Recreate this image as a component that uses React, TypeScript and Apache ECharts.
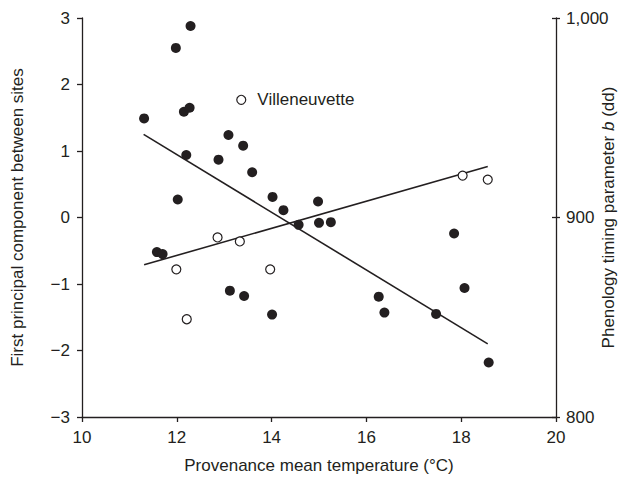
import React, { useEffect, useRef } from "react";
import * as echarts from "echarts";

// Filled dots: first principal component (left axis)
const pcTemp = [11.31, 11.98, 12.29, 12.15, 12.27, 12.2, 12.02, 13.09, 12.88, 13.4, 13.59, 14.02, 14.25, 14.57, 14.98, 15.0, 15.25, 17.85, 11.58, 11.7, 13.12, 13.42, 14.01, 16.26, 16.38, 17.47, 18.07, 18.58];
const pcValue = [1.49, 2.55, 2.88, 1.59, 1.65, 0.94, 0.27, 1.24, 0.87, 1.08, 0.68, 0.31, 0.11, -0.11, 0.24, -0.08, -0.07, -0.24, -0.52, -0.55, -1.1, -1.18, -1.46, -1.19, -1.43, -1.45, -1.06, -2.18];

// Open circles: phenology timing parameter b (right axis)
const phTemp = [13.36, 12.86, 13.33, 11.99, 13.97, 12.21, 18.03, 18.56];
const phValue = [959, 890, 888, 874, 874, 849, 921, 919];
const phSite = ["Villeneuvette", "", "", "", "", "", "", ""];

// Regression lines
const pcFitTemp = [11.3, 18.56];
const pcFitValue = [1.25, -1.9];
const phFitTemp = [11.31, 18.56];
const phFitValue = [876.3, 925.6];

const xTicks = { min: 10, max: 20, interval: 2 };
const leftTicks = { min: -3, max: 3, interval: 1 };
const rightTicks = { min: 800, max: 1000, interval: 100 };

const FONT = "'Liberation Sans', Arial, sans-serif";
const INK = "#231f20";

export default function App() {
  const ref = useRef<HTMLDivElement>(null);
  useEffect(() => {
    if (!ref.current) return;
    document.body.style.margin = "0";
    const chart = echarts.init(ref.current, undefined, { renderer: "svg" });
    const axisText = { color: INK, fontFamily: FONT, fontSize: 17 };
    chart.setOption({
      animation: false,
      backgroundColor: "#ffffff",
      grid: { left: 82, right: 71, top: 18, bottom: 61, containLabel: false, outerBoundsMode: "none" },
      xAxis: {
        type: "value",
        ...xTicks,
        splitLine: { show: false },
        axisLine: { show: true, onZero: false, lineStyle: { color: INK, width: 1.3 } },
        axisTick: { show: true, length: 5, lineStyle: { color: INK, width: 1.3 } },
        axisLabel: { ...axisText, margin: 12 },
        name: "Provenance mean temperature (°C)",
        nameLocation: "middle",
        nameGap: 40,
        nameMoveOverlap: false,
        nameTextStyle: { ...axisText },
      },
      yAxis: [
        {
          type: "value",
          position: "left",
          ...leftTicks,
          splitLine: { show: false },
          axisLine: { show: true, onZero: false, lineStyle: { color: INK, width: 1.3 } },
          axisTick: { show: true, length: 5, lineStyle: { color: INK, width: 1.3 } },
          axisLabel: { ...axisText, margin: 12, formatter: (v: number) => (v < 0 ? "\u2212" + Math.abs(v) : String(v)) },
          name: "First principal component between sites",
          nameLocation: "middle",
          nameGap: 56,
          nameRotate: 90,
          nameMoveOverlap: false,
          nameTextStyle: { ...axisText },
        },
        {
          type: "value",
          position: "right",
          ...rightTicks,
          splitLine: { show: false },
          axisLine: { show: true, onZero: false, lineStyle: { color: INK, width: 1.3 } },
          axisTick: { show: true, length: 4, lineStyle: { color: INK, width: 1.3 } },
          axisLabel: { ...axisText, margin: 10, formatter: (v: number) => v.toLocaleString("en-US") },
          name: "Phenology timing parameter {i|b} (dd)",
          nameLocation: "middle",
          nameGap: 44,
          nameRotate: 90,
          nameMoveOverlap: false,
          nameTextStyle: { ...axisText, rich: { i: { ...axisText, fontStyle: "italic" } } },
        },
        {
          type: "value",
          position: "right",
          offset: 0,
          ...rightTicks,
          splitLine: { show: false },
          axisLine: { show: false, onZero: false },
          axisTick: { show: true, inside: true, length: 4, lineStyle: { color: INK, width: 1.3 } },
          axisLabel: { show: false },
        },
      ],
      series: [
        {
          type: "line",
          yAxisIndex: 0,
          data: pcFitTemp.map((t, i) => [t, pcFitValue[i]]),
          showSymbol: false,
          symbol: "none",
          lineStyle: { color: INK, width: 1.6 },
          z: 1,
        },
        {
          type: "line",
          yAxisIndex: 1,
          data: phFitTemp.map((t, i) => [t, phFitValue[i]]),
          showSymbol: false,
          symbol: "none",
          lineStyle: { color: INK, width: 1.6 },
          z: 1,
        },
        {
          type: "scatter",
          yAxisIndex: 0,
          data: pcTemp.map((t, i) => [t, pcValue[i]]),
          symbol: "circle",
          symbolSize: 10,
          itemStyle: { color: INK, opacity: 1 },
          z: 3,
        },
        {
          type: "scatter",
          yAxisIndex: 1,
          data: phTemp.map((t, i) => ({
            value: [t, phValue[i]],
            label: {
              show: phSite[i] !== "",
              formatter: phSite[i],
              position: "right",
              distance: 11,
              ...axisText,
            },
          })),
          symbol: "circle",
          symbolSize: 9,
          itemStyle: { color: "#ffffff", borderColor: INK, borderWidth: 1.2, opacity: 1 },
          z: 4,
        },
      ],
    });
    return () => chart.dispose();
  }, []);
  return <div ref={ref} style={{ width: 627, height: 478 }} />;
}
